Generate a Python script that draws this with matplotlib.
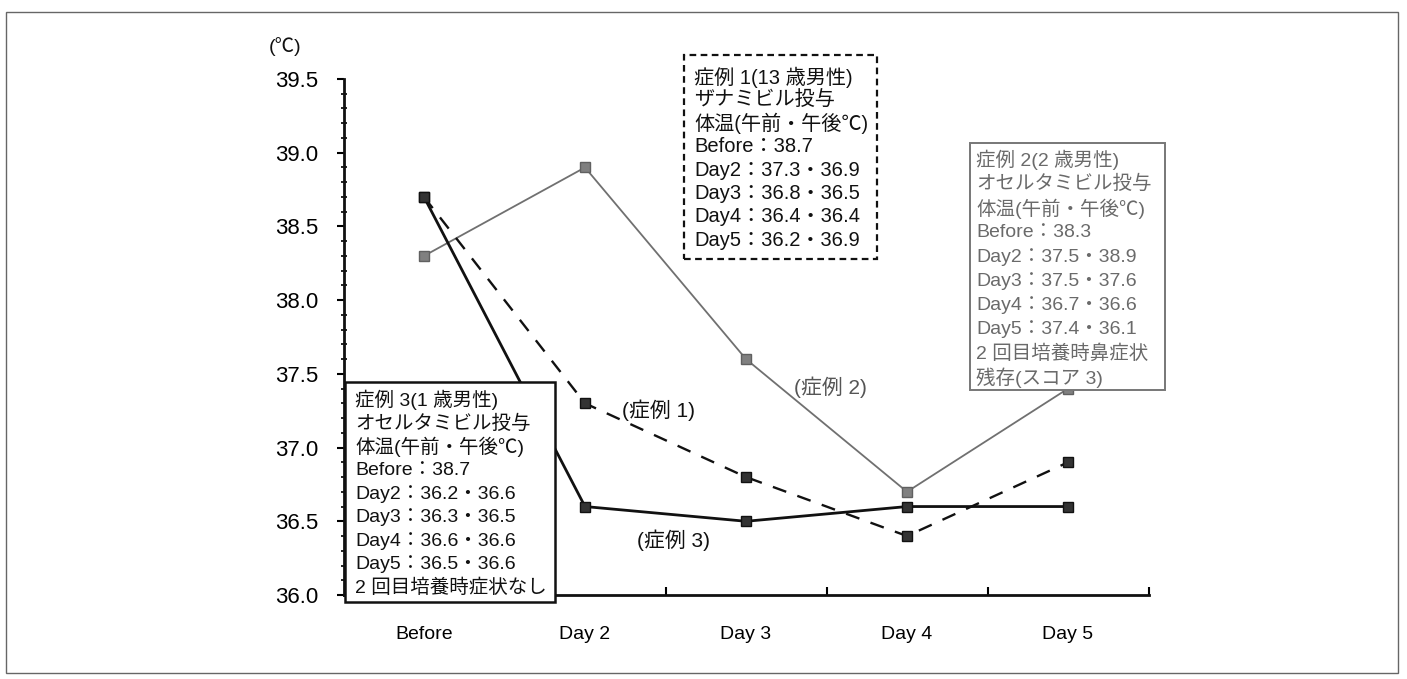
import matplotlib
matplotlib.use("Agg")
import matplotlib.pyplot as plt
from matplotlib.patches import Rectangle
from matplotlib.ticker import MultipleLocator, FixedLocator, FormatStrFormatter

plt.rcParams['font.family'] = ['Liberation Sans', 'Noto Sans CJK JP', 'DejaVu Sans']

days = ['Before', 'Day 2', 'Day 3', 'Day 4', 'Day 5']
case1 = [38.7, 37.3, 36.8, 36.4, 36.9]   # zanamivir, dashed
case2 = [38.3, 38.9, 37.6, 36.7, 37.4]   # oseltamivir, grey
case3 = [38.7, 36.6, 36.5, 36.6, 36.6]   # oseltamivir, solid

box1 = ['症例 1(13 歳男性)', 'ザナミビル投与', '体温(午前・午後℃)', 'Before：38.7',
        'Day2：37.3・36.9', 'Day3：36.8・36.5', 'Day4：36.4・36.4', 'Day5：36.2・36.9']
box2 = ['症例 2(2 歳男性)', 'オセルタミビル投与', '体温(午前・午後℃)', 'Before：38.3',
        'Day2：37.5・38.9', 'Day3：37.5・37.6', 'Day4：36.7・36.6', 'Day5：37.4・36.1',
        '2 回目培養時鼻症状', '残存(スコア 3)']
box3 = ['症例 3(1 歳男性)', 'オセルタミビル投与', '体温(午前・午後℃)', 'Before：38.7',
        'Day2：36.2・36.6', 'Day3：36.3・36.5', 'Day4：36.6・36.6', 'Day5：36.5・36.6',
        '2 回目培養時症状なし']

W, H = 1407, 679
fig = plt.figure(figsize=(W / 100, H / 100), dpi=100)
ax = fig.add_axes([343.5 / W, 1 - 595 / H, 805 / W, 516 / H])

x = list(range(len(days)))
ax.plot(x, case2, '-', color='#707070', lw=1.3, marker='s', ms=6.5,
        mfc='#808080', mec='#606060', zorder=3)
ax.plot(x, case1, color='#111111', lw=1.7, dashes=(6, 5), marker='s', ms=6.5,
        mfc='#333333', mec='#111111', zorder=4)
ax.plot(x, case3, '-', color='#111111', lw=2.0, marker='s', ms=6.5,
        mfc='#333333', mec='#111111', zorder=5)

ax.set_xlim(-0.5, 4.5)
ax.set_ylim(36.0, 39.5)
ax.spines['top'].set_visible(False)
ax.spines['right'].set_visible(False)
for s in ('left', 'bottom'):
    ax.spines[s].set_linewidth(2.0)
    ax.spines[s].set_color('#111111')

ax.yaxis.set_major_locator(MultipleLocator(0.5))
ax.yaxis.set_minor_locator(MultipleLocator(0.1))
ax.yaxis.set_major_formatter(FormatStrFormatter('%.1f'))
ax.tick_params(axis='y', which='major', direction='out', length=5, width=1.5,
               pad=13, labelsize=16)
ax.tick_params(axis='y', which='minor', direction='inout', length=5, width=1.2)

ax.set_xticks(x)
ax.set_xticklabels(days)
ax.xaxis.set_minor_locator(FixedLocator([0.5, 1.5, 2.5, 3.5, 4.5]))
ax.tick_params(axis='x', which='major', length=0, pad=22, labelsize=14)
ax.tick_params(axis='x', which='minor', direction='in', length=6, width=1.5)

# series labels
ax.text(1.23, 37.25, '(症例 1)', fontsize=15, va='center', color='#111111')
ax.text(2.30, 37.41, '(症例 2)', fontsize=15, va='center', color='#555555')
ax.text(1.32, 36.37, '(症例 3)', fontsize=15, va='center', color='#111111')


def fx(px):
    return px / W


def fy(py):
    return 1 - py / H


def text_box(lines, left, top, right, bottom, tx, ty0, dy, color, ec, ls, lw, size):
    fig.add_artist(Rectangle((fx(left), fy(bottom)), fx(right) - fx(left),
                             fy(top) - fy(bottom), transform=fig.transFigure,
                             facecolor='white', edgecolor=ec, linestyle=ls,
                             lw=lw, zorder=6))
    for i, line in enumerate(lines):
        fig.text(fx(tx), fy(ty0 + i * dy), line, fontsize=size, color=color,
                 va='center', ha='left', zorder=7)


text_box(box1, 684, 55, 877, 259, 694, 77, 23.3, '#111111', '#111111', (0, (3, 2)), 1.6, 14.5)
text_box(box2, 970, 143, 1165, 390, 976, 160, 24.2, '#6a6a6a', '#777777', '-', 1.4, 14)
text_box(box3, 345, 382, 555, 602, 355, 400, 23.5, '#111111', '#111111', '-', 1.8, 14)

fig.text(fx(285), fy(47), '(℃)', fontsize=14, ha='center', va='center', color='#111111')

# outer frame
fig.add_artist(Rectangle((fx(6), fy(673)), fx(1398) - fx(6), fy(12) - fy(673),
                         transform=fig.transFigure, fill=False,
                         edgecolor='#666666', lw=1.0, zorder=8))

fig.savefig('out.png', dpi=100)
